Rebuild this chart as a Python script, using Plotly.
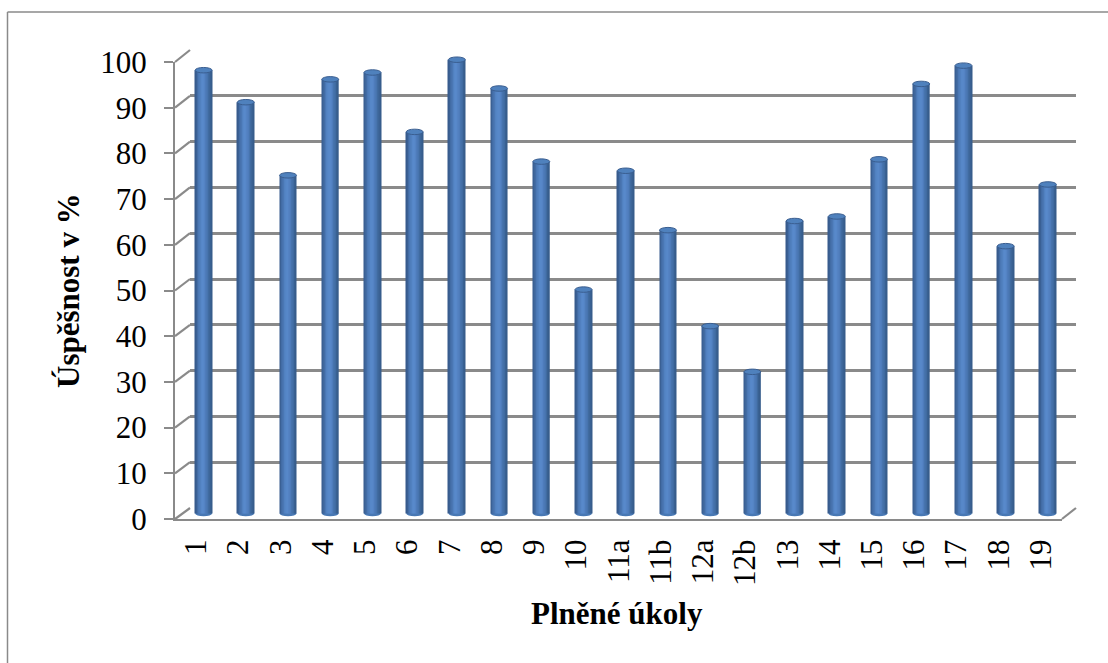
import plotly.graph_objects as go

# Task labels and success rates (%)
tasks = ["1", "2", "3", "4", "5", "6", "7", "8", "9", "10", "11a", "11b",
         "12a", "12b", "13", "14", "15", "16", "17", "18", "19"]
success = [97, 90, 74, 95, 96.5, 83.5, 99.3, 93, 77, 49, 75, 62,
           41, 31, 64, 65, 77.5, 94, 98, 58.5, 72]
y_ticks = list(range(0, 101, 10))

W, H = 1108, 663
FONT = "Liberation Serif"
GRID = "#8A8A8A"

def fx(px):
    return px / W

def fy(py):
    return (H - py) / H

# pixel geometry of the pseudo-3D box: front plane, bar plane, back wall
FRONT = dict(x0=175, x1=1062, y0=519, y100=62)
MID = dict(x0=182.5, x1=1069, y0=513.5, y100=56.5)
BACK = dict(x0=190, x1=1076, y0=508, y100=50)

def ypix(plane, v):
    return plane["y0"] + (plane["y100"] - plane["y0"]) * v / 100.0

n = len(tasks)
xs = list(range(n))

fig = go.Figure()

# back wall (gridlines) -> subplot xy
fig.add_trace(go.Scatter(x=[None], y=[None], xaxis="x", yaxis="y",
                         showlegend=False, hoverinfo="skip"))

# cylindrical columns built from vertical shaded strips -> subplot x2y2
bar_w = 0.40
strip_colors = ["#375B8D", "#3F679C", "#4772AD", "#4E7DBB", "#5485C5",
                "#5889CB", "#5787C8", "#5280C0", "#4B78B5", "#4470A8",
                "#3D6699", "#375D8C"]
ns = len(strip_colors)
sw = bar_w / ns
for k, c in enumerate(strip_colors):
    fig.add_trace(go.Bar(
        x=xs, y=success, xaxis="x2", yaxis="y2",
        width=sw * 1.35 if k < ns - 1 else sw,
        offset=-bar_w / 2 + k * sw,
        marker=dict(color=c, line=dict(width=0)),
        showlegend=False, hoverinfo="skip",
    ))

# front axes (labels, axis lines) -> subplot x3y3
fig.add_trace(go.Scatter(x=[None], y=[None], xaxis="x3", yaxis="y3",
                         showlegend=False, hoverinfo="skip"))

shapes = []
# elliptical caps and rounded bottoms of the cylinders
cap_h = 0.6
for i, v in enumerate(success):
    shapes.append(dict(type="circle", xref="x2", yref="y2", layer="below",
                       x0=i - bar_w / 2, x1=i + bar_w / 2,
                       y0=-cap_h, y1=cap_h,
                       fillcolor="#4878B4", line=dict(width=0)))
    shapes.append(dict(type="circle", xref="x2", yref="y2", layer="above",
                       x0=i - bar_w / 2, x1=i + bar_w / 2,
                       y0=v - cap_h, y1=v + cap_h,
                       fillcolor="#4F81BD", line=dict(color="#3A5E90", width=1)))

# side-wall diagonals linking front ticks to back gridlines
for t in y_ticks:
    shapes.append(dict(type="line", xref="paper", yref="paper",
                       x0=fx(FRONT["x0"]), y0=fy(ypix(FRONT, t)),
                       x1=fx(BACK["x0"]), y1=fy(ypix(BACK, t)),
                       line=dict(color=GRID, width=2.2)))
# floor right edge
shapes.append(dict(type="line", xref="paper", yref="paper",
                   x0=fx(FRONT["x1"]), y0=fy(FRONT["y0"]),
                   x1=fx(BACK["x1"]), y1=fy(BACK["y0"]),
                   line=dict(color=GRID, width=2.2)))
# outer chart frame (top and left edges)
shapes.append(dict(type="line", xref="paper", yref="paper",
                   x0=fx(7.5), y0=fy(12), x1=1, y1=fy(12),
                   line=dict(color="#8A8A8A", width=1.5)))
shapes.append(dict(type="line", xref="paper", yref="paper",
                   x0=fx(7.5), y0=fy(12), x1=fx(7.5), y1=0,
                   line=dict(color="#8A8A8A", width=1.5)))

mid_lo, mid_hi = -2, 102

fig.update_layout(
    width=W, height=H, autosize=False,
    margin=dict(l=0, r=0, t=0, b=0, pad=0, autoexpand=False),
    paper_bgcolor="white", plot_bgcolor="rgba(0,0,0,0)",
    barmode="overlay",
    showlegend=False,
    font=dict(family=FONT, color="black"),
    shapes=shapes,
    xaxis=dict(domain=[fx(BACK["x0"]), fx(BACK["x1"])], range=[0, 1],
               showgrid=False, zeroline=False, showticklabels=False,
               ticks="", showline=False, anchor="y"),
    yaxis=dict(domain=[fy(BACK["y0"]), fy(BACK["y100"])], range=[-0.02, 100.02],
               tickvals=y_ticks, showgrid=True, gridcolor=GRID, gridwidth=2.6,
               zeroline=False, showticklabels=False, ticks="", showline=False,
               anchor="x"),
    xaxis2=dict(domain=[fx(MID["x0"]), fx(MID["x1"])], range=[-0.5, n - 0.5],
                showgrid=False, zeroline=False, showticklabels=False,
                ticks="", showline=False, anchor="y2"),
    yaxis2=dict(domain=[fy(ypix(MID, mid_lo)), fy(ypix(MID, mid_hi))],
                range=[mid_lo, mid_hi],
                showgrid=False, zeroline=False, showticklabels=False,
                ticks="", showline=False, anchor="x2"),
    xaxis3=dict(domain=[fx(FRONT["x0"]), fx(FRONT["x1"])], range=[-0.5, n - 0.5],
                tickvals=xs, ticktext=tasks, tickangle=-90,
                tickfont=dict(family=FONT, size=31, color="black"),
                showgrid=False, zeroline=False, ticks="",
                ticklabelstandoff=6,
                showline=True, linecolor=GRID, linewidth=2.2, anchor="y3"),
    yaxis3=dict(domain=[fy(FRONT["y0"]), fy(FRONT["y100"])], range=[0, 100],
                tickvals=y_ticks,
                tickfont=dict(family=FONT, size=31, color="black"),
                showgrid=False, zeroline=False,
                ticks="outside", ticklen=9, tickcolor=GRID, tickwidth=2.2,
                ticklabelstandoff=11,
                showline=True, linecolor=GRID, linewidth=2.2, anchor="x3"),
    annotations=[
        dict(text="<b>Plněné úkoly</b>", xref="paper", yref="paper",
             x=fx(617), y=fy(613), xanchor="center", yanchor="middle",
             showarrow=False,
             font=dict(family=FONT, size=31, color="black")),
        dict(text="<b>Úspěšnost v %</b>", xref="paper", yref="paper",
             x=fx(68), y=fy(291), xanchor="center", yanchor="middle",
             showarrow=False, textangle=-90,
             font=dict(family=FONT, size=31, color="black")),
    ],
)

fig.write_html("out.html")
